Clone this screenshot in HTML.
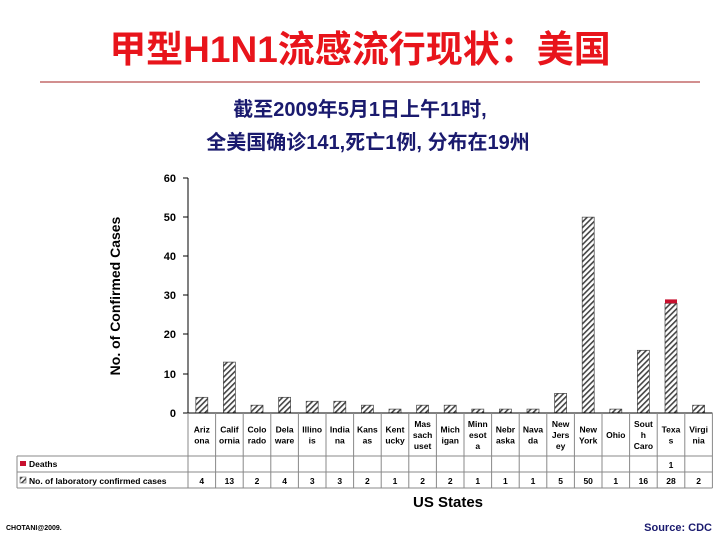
<!DOCTYPE html>
<html><head><meta charset="utf-8"><style>
body{margin:0;background:#fff;width:720px;height:540px;overflow:hidden}
svg{display:block}
</style></head><body>
<svg width="720" height="540" xmlns="http://www.w3.org/2000/svg" font-family="Liberation Sans, Noto Sans CJK SC, sans-serif">
<defs>
<pattern id="h" width="4" height="4" patternUnits="userSpaceOnUse" patternTransform="rotate(45)">
<rect width="4" height="4" fill="#fff"/><rect width="1.6" height="4" fill="#444"/>
</pattern>
</defs>
<text x="360" y="62" text-anchor="middle" font-size="37" font-weight="bold" fill="#e8141b">甲型H1N1流感流行现状：美国</text>
<line x1="40" y1="82" x2="700" y2="82" stroke="#c46a6a" stroke-width="1.5"/>
<text x="360" y="116" text-anchor="middle" font-size="20" font-weight="bold" fill="#1a1a6e">截至2009年5月1日上午11时,</text>
<text x="368" y="149" text-anchor="middle" font-size="20" font-weight="bold" fill="#1a1a6e">全美国确诊141,死亡1例, 分布在19州</text>
<line x1="188" y1="178" x2="188" y2="413" stroke="#000"/>
<g font-size="11" font-weight="bold" text-anchor="end">
<text x="176" y="417">0</text><text x="176" y="378">10</text><text x="176" y="338">20</text>
<text x="176" y="299">30</text><text x="176" y="260">40</text><text x="176" y="221">50</text><text x="176" y="182">60</text>
</g>
<g stroke="#000"><line x1="183" y1="413" x2="188" y2="413"/><line x1="183" y1="374" x2="188" y2="374"/><line x1="183" y1="334" x2="188" y2="334"/><line x1="183" y1="295" x2="188" y2="295"/><line x1="183" y1="256" x2="188" y2="256"/><line x1="183" y1="217" x2="188" y2="217"/><line x1="183" y1="178" x2="188" y2="178"/></g>
<text transform="translate(120,296) rotate(-90)" text-anchor="middle" font-size="14" font-weight="bold">No. of Confirmed Cases</text>
<g stroke="#444" stroke-width="0.7" fill="url(#h)">
<rect x="195.8" y="397.3" width="12" height="15.7"/>
<rect x="223.4" y="362.1" width="12" height="50.9"/>
<rect x="251" y="405.2" width="12" height="7.8"/>
<rect x="278.6" y="397.3" width="12" height="15.7"/>
<rect x="306.2" y="401.25" width="12" height="11.75"/>
<rect x="333.8" y="401.25" width="12" height="11.75"/>
<rect x="361.4" y="405.2" width="12" height="7.8"/>
<rect x="389" y="409.1" width="12" height="3.9"/>
<rect x="416.6" y="405.2" width="12" height="7.8"/>
<rect x="444.2" y="405.2" width="12" height="7.8"/>
<rect x="471.8" y="409.1" width="12" height="3.9"/>
<rect x="499.4" y="409.1" width="12" height="3.9"/>
<rect x="527" y="409.1" width="12" height="3.9"/>
<rect x="554.6" y="393.4" width="12" height="19.6"/>
<rect x="582.2" y="217.15" width="12" height="195.85"/>
<rect x="609.8" y="409.1" width="12" height="3.9"/>
<rect x="637.4" y="350.3" width="12" height="62.7"/>
<rect x="665" y="303.3" width="12" height="109.7"/>
<rect x="692.6" y="405.2" width="12" height="7.8"/>
</g>
<rect x="665" y="299.4" width="12" height="3.9" fill="#c8102e"/>
<g stroke="#888">
<line x1="188" y1="413" x2="712.4" y2="413" stroke="#000"/>
<line x1="17" y1="456" x2="712.4" y2="456"/>
<line x1="17" y1="472" x2="712.4" y2="472"/>
<line x1="17" y1="488" x2="712.4" y2="488"/>
<line x1="17" y1="456" x2="17" y2="488"/>
<line x1="188" y1="413" x2="188" y2="488"/><line x1="215.6" y1="413" x2="215.6" y2="488"/><line x1="243.2" y1="413" x2="243.2" y2="488"/><line x1="270.8" y1="413" x2="270.8" y2="488"/><line x1="298.4" y1="413" x2="298.4" y2="488"/><line x1="326" y1="413" x2="326" y2="488"/><line x1="353.6" y1="413" x2="353.6" y2="488"/><line x1="381.2" y1="413" x2="381.2" y2="488"/><line x1="408.8" y1="413" x2="408.8" y2="488"/><line x1="436.4" y1="413" x2="436.4" y2="488"/><line x1="464" y1="413" x2="464" y2="488"/><line x1="491.6" y1="413" x2="491.6" y2="488"/><line x1="519.2" y1="413" x2="519.2" y2="488"/><line x1="546.8" y1="413" x2="546.8" y2="488"/><line x1="574.4" y1="413" x2="574.4" y2="488"/><line x1="602" y1="413" x2="602" y2="488"/><line x1="629.6" y1="413" x2="629.6" y2="488"/><line x1="657.2" y1="413" x2="657.2" y2="488"/><line x1="684.8" y1="413" x2="684.8" y2="488"/><line x1="712.4" y1="413" x2="712.4" y2="488"/>
</g>
<g font-size="8.5" font-weight="bold" text-anchor="middle">
<text x="201.8" y="432.5">Ariz</text><text x="201.8" y="443.5">ona</text>
<text x="229.4" y="432.5">Calif</text><text x="229.4" y="443.5">ornia</text>
<text x="257" y="432.5">Colo</text><text x="257" y="443.5">rado</text>
<text x="284.6" y="432.5">Dela</text><text x="284.6" y="443.5">ware</text>
<text x="312.2" y="432.5">Illino</text><text x="312.2" y="443.5">is</text>
<text x="339.8" y="432.5">India</text><text x="339.8" y="443.5">na</text>
<text x="367.4" y="432.5">Kans</text><text x="367.4" y="443.5">as</text>
<text x="395" y="432.5">Kent</text><text x="395" y="443.5">ucky</text>
<text x="422.6" y="427">Mas</text><text x="422.6" y="438">sach</text><text x="422.6" y="449">uset</text>
<text x="450.2" y="432.5">Mich</text><text x="450.2" y="443.5">igan</text>
<text x="477.8" y="427">Minn</text><text x="477.8" y="438">esot</text><text x="477.8" y="449">a</text>
<text x="505.4" y="432.5">Nebr</text><text x="505.4" y="443.5">aska</text>
<text x="533" y="432.5">Nava</text><text x="533" y="443.5">da</text>
<text x="560.6" y="427">New</text><text x="560.6" y="438">Jers</text><text x="560.6" y="449">ey</text>
<text x="588.2" y="432.5">New</text><text x="588.2" y="443.5">York</text>
<text x="615.8" y="438">Ohio</text>
<text x="643.4" y="427">Sout</text><text x="643.4" y="438">h</text><text x="643.4" y="449">Caro</text>
<text x="671" y="432.5">Texa</text><text x="671" y="443.5">s</text>
<text x="698.6" y="432.5">Virgi</text><text x="698.6" y="443.5">nia</text>
<text x="671" y="468">1</text>
<text x="201.8" y="484">4</text><text x="229.4" y="484">13</text><text x="257" y="484">2</text><text x="284.6" y="484">4</text><text x="312.2" y="484">3</text><text x="339.8" y="484">3</text><text x="367.4" y="484">2</text><text x="395" y="484">1</text><text x="422.6" y="484">2</text><text x="450.2" y="484">2</text><text x="477.8" y="484">1</text><text x="505.4" y="484">1</text><text x="533" y="484">1</text><text x="560.6" y="484">5</text><text x="588.2" y="484">50</text><text x="615.8" y="484">1</text><text x="643.4" y="484">16</text><text x="671" y="484">28</text><text x="698.6" y="484">2</text>
</g>
<rect x="20" y="461" width="6" height="5" fill="#c8102e"/>
<rect x="20" y="477" width="6" height="6" fill="url(#h)" stroke="#444" stroke-width="0.5"/>
<text x="29" y="467" font-size="8.5" font-weight="bold">Deaths</text>
<text x="29" y="484" font-size="8.5" font-weight="bold">No. of laboratory confirmed cases</text>
<text x="448" y="507" text-anchor="middle" font-size="15" font-weight="bold">US States</text>
<text x="6" y="530" font-size="7" font-weight="bold">CHOTANI@2009.</text>
<text x="712" y="531" text-anchor="end" font-size="11" font-weight="bold" fill="#1a1a6e">Source: CDC</text>
</svg>
</body></html>
